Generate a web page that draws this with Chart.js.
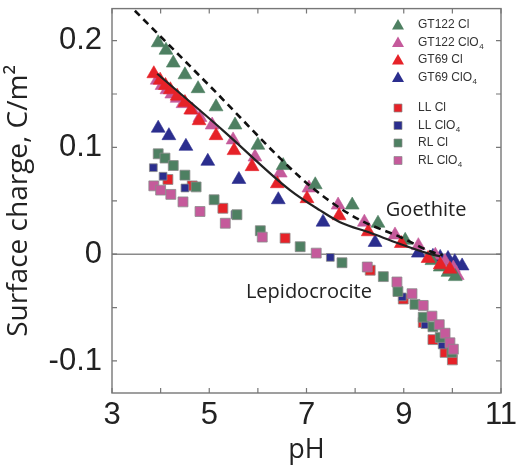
<!DOCTYPE html>
<html>
<head>
<meta charset="utf-8">
<script src="https://cdn.jsdelivr.net/npm/chart.js@4.4.0/dist/chart.umd.min.js"></script>
<style>
  body { margin: 0; background: #fff; }
</style>
</head>
<body>
<canvas id="pzc" width="516" height="469"></canvas>
<script>
// surface charge (C/m2) vs pH for goethite (triangles) and lepidocrocite (squares)
var phTicks = [3, 5, 7, 9, 11];
var chargeTicks = [-0.1, 0, 0.1, 0.2];

// goethite titrations
var gt122ClPH = [3.95, 4.11, 4.26, 4.50, 4.77, 5.14, 5.53, 6.00, 6.52, 7.18, 7.94, 8.47, 9.03, 9.58, 9.75, 9.91, 10.06];
var gt122ClQ  = [0.198, 0.191, 0.179, 0.168, 0.155, 0.138, 0.121, 0.102, 0.083, 0.065, 0.046, 0.029, 0.013, -0.006, -0.012, -0.017, -0.021];

var gt122ClO4PH = [3.93, 4.03, 4.13, 4.23, 4.34, 4.46, 4.65, 4.81, 5.06, 5.49, 5.94, 6.46, 7.05, 7.65, 8.19, 8.82, 9.30, 9.65, 9.85, 10.02, 10.10];
var gt122ClO4Q  = [0.163, 0.158, 0.154, 0.150, 0.146, 0.141, 0.135, 0.128, 0.121, 0.107, 0.091, 0.076, 0.062, 0.046, 0.030, 0.018, 0.008, -0.001, -0.007, -0.013, -0.020];

var gt69ClPH = [3.86, 3.99, 4.10, 4.20, 4.34, 4.50, 4.62, 4.79, 5.14, 5.51, 5.88, 6.40, 7.01, 7.67, 8.27, 8.95, 9.50, 9.75, 9.95];
var gt69ClQ  = [0.169, 0.163, 0.158, 0.154, 0.148, 0.142, 0.135, 0.125, 0.111, 0.097, 0.082, 0.066, 0.052, 0.036, 0.021, 0.010, -0.004, -0.010, -0.014];

var gt69ClO4PH = [3.95, 4.17, 4.52, 4.97, 5.61, 6.42, 7.34, 8.41, 9.30, 9.60, 9.75, 9.91, 10.05, 10.20];
var gt69ClO4Q  = [0.118, 0.111, 0.101, 0.087, 0.070, 0.051, 0.030, 0.011, 0.001, -0.002, -0.003, -0.004, -0.007, -0.011];

// lepidocrocite titrations
var llClPH = [4.15, 4.65, 5.28, 6.56, 8.31, 8.99, 9.40, 9.60, 9.85, 10.00];
var llClQ  = [0.070, 0.064, 0.043, 0.015, -0.015, -0.042, -0.064, -0.080, -0.092, -0.099];

var llClO4PH = [3.85, 4.05, 4.50, 5.53, 7.49, 8.97, 9.44, 9.79];
var llClO4Q  = [0.081, 0.073, 0.062, 0.037, -0.003, -0.040, -0.066, -0.085];

var rlClPH = [3.95, 4.09, 4.26, 4.50, 4.73, 5.10, 5.57, 6.05, 6.87, 7.73, 8.58, 8.88, 9.23, 9.40, 9.60, 9.75, 9.99];
var rlClQ  = [0.094, 0.090, 0.083, 0.074, 0.063, 0.051, 0.037, 0.022, 0.007, -0.008, -0.021, -0.035, -0.047, -0.059, -0.068, -0.078, -0.092];

var rlClO4PH = [3.86, 4.00, 4.21, 4.46, 4.81, 5.33, 6.09, 7.20, 8.25, 8.86, 9.17, 9.40, 9.58, 9.73, 9.85, 9.95, 10.02];
var rlClO4Q  = [0.064, 0.060, 0.056, 0.049, 0.040, 0.029, 0.016, 0.001, -0.012, -0.026, -0.037, -0.048, -0.058, -0.066, -0.074, -0.083, -0.089];

// model curves
var dashedPH = [3.47, 5.00, 6.87, 7.50, 8.10, 8.93, 9.58, 9.80];
var dashedQ  = [0.228, 0.158, 0.072, 0.049, 0.032, 0.016, 0.002, -0.001];
var solidPH = [3.93, 5.28, 6.66, 7.28, 7.69, 8.31, 8.90, 9.48, 9.75];
var solidQ  = [0.169, 0.116, 0.060, 0.041, 0.030, 0.020, 0.010, 0.001, -0.002];

var zeroPH = [3, 11];
var zeroQ = [0, 0];

function pts(xs, ys) {
  return xs.map(function (x, i) { return { x: x, y: ys[i] }; });
}

var GREEN = '#4e8062', PINK = '#c55a9b', RED = '#e62228', BLUE = '#2b2e8e';

function marks(label, xs, ys, style, color, order) {
  var tri = style === 'triangle';
  return {
    label: label,
    data: pts(xs, ys),
    pointStyle: style,
    pointRadius: tri ? 8 : (color === BLUE ? 5.5 : 7),
    backgroundColor: color,
    borderColor: tri ? color : '#8a8a8a',
    borderWidth: tri ? 0.6 : 0.8,
    showLine: false,
    order: order
  };
}

var datasets = [
  { label: 'model dashed', data: pts(dashedPH, dashedQ), showLine: true, pointRadius: 0, borderColor: '#111',
    borderWidth: 2.6, borderDash: [7, 5], cubicInterpolationMode: 'monotone', order: 0 },
  { label: 'model solid', data: pts(solidPH, solidQ), showLine: true, pointRadius: 0, borderColor: '#222',
    borderWidth: 2.2, cubicInterpolationMode: 'monotone', order: 0 },
  marks('GT69 Cl', gt69ClPH, gt69ClQ, 'triangle', RED, 1),
  marks('GT122 Cl', gt122ClPH, gt122ClQ, 'triangle', GREEN, 2),
  marks('GT122 ClO\u2084', gt122ClO4PH, gt122ClO4Q, 'triangle', PINK, 3),
  marks('GT69 ClO\u2084', gt69ClO4PH, gt69ClO4Q, 'triangle', BLUE, 4),
  marks('RL ClO\u2084', rlClO4PH, rlClO4Q, 'rect', PINK, 5),
  marks('RL Cl', rlClPH, rlClQ, 'rect', GREEN, 6),
  marks('LL ClO\u2084', llClO4PH, llClO4Q, 'rect', BLUE, 7),
  marks('LL Cl', llClPH, llClQ, 'rect', RED, 8),
  { label: 'zero', data: pts(zeroPH, zeroQ), showLine: true, pointRadius: 0, borderColor: '#8a8a8a',
    borderWidth: 1.5, order: 9 }
];

// legend entries, in the order drawn top to bottom (null = gap)
var legendRows = ['GT122 Cl', 'GT122 ClO\u2084', 'GT69 Cl', 'GT69 ClO\u2084', null,
                  'LL Cl', 'LL ClO\u2084', 'RL Cl', 'RL ClO\u2084'];

var boxPlugin = {
  id: 'box',
  afterDatasetsDraw: function (chart) {
    var ctx = chart.ctx, a = chart.chartArea;
    var xs = chart.scales.x, ys = chart.scales.y;
    ctx.save();
    ctx.strokeStyle = '#777';
    ctx.lineWidth = 1.4;
    ctx.strokeRect(a.left, a.top, a.right - a.left, a.bottom - a.top);
    ctx.lineWidth = 1.2;
    ctx.beginPath();
    for (var p = 3; p <= 11; p++) {
      var px = xs.getPixelForValue(p);
      ctx.moveTo(px, a.bottom); ctx.lineTo(px, a.bottom - 5);
      ctx.moveTo(px, a.top); ctx.lineTo(px, a.top + 5);
    }
    for (var k = -2; k <= 4; k++) {
      var py = ys.getPixelForValue(k * 0.05);
      ctx.moveTo(a.left, py); ctx.lineTo(a.left + 5, py);
      ctx.moveTo(a.right, py); ctx.lineTo(a.right - 5, py);
    }
    ctx.stroke();

    // annotations
    ctx.fillStyle = '#222';
    ctx.font = '20px "Open Sans"';
    ctx.textAlign = 'center';
    ctx.textBaseline = 'middle';
    ctx.fillText('Goethite', xs.getPixelForValue(9.46), ys.getPixelForValue(0.041));
    ctx.fillText('Lepidocrocite', xs.getPixelForValue(7.05), ys.getPixelForValue(-0.036));

    // legend
    var y = 25;
    ctx.textAlign = 'left';
    legendRows.forEach(function (name) {
      if (name === null) { y += 13; return; }
      var ds = chart.data.datasets.filter(function (d) { return d.label === name; })[0];
      var mx = 398;
      ctx.fillStyle = ds.backgroundColor;
      ctx.beginPath();
      if (ds.pointStyle === 'triangle') {
        ctx.moveTo(mx, y - 6); ctx.lineTo(mx + 6, y + 4.5); ctx.lineTo(mx - 6, y + 4.5);
        ctx.closePath(); ctx.fill();
      } else {
        ctx.rect(mx - 4, y - 4, 8, 8); ctx.fill();
        ctx.strokeStyle = '#8a8a8a'; ctx.lineWidth = 0.7; ctx.stroke();
      }
      var parts = name.split('\u2084');
      ctx.fillStyle = '#333';
      ctx.font = '12px "Liberation Sans"';
      ctx.fillText(parts[0], 418, y);
      if (parts.length > 1) {
        var w = ctx.measureText(parts[0]).width;
        ctx.font = '8px "Liberation Sans"';
        ctx.fillText('4', 418 + w + 0.5, y + 4);
      }
      y += 17.5;
    });
    ctx.restore();
  }
};

var chart = new Chart(document.getElementById('pzc'), {
  type: 'scatter',
  data: { datasets: datasets },
  options: {
    responsive: false,
    animation: false,
    events: [],
    layout: { padding: { top: 8, right: 15, left: 0, bottom: 0 } },
    plugins: { legend: { display: false }, tooltip: { enabled: false } },
    scales: {
      x: {
        type: 'linear', min: 3, max: 11,
        grid: { display: false, drawTicks: false },
        border: { display: false },
        ticks: {
          stepSize: 1, padding: 4, color: '#222', autoSkip: false, maxRotation: 0, includeBounds: false,
          font: { family: 'Liberation Sans', size: 31 },
          callback: function (v) { return phTicks.indexOf(v) >= 0 ? String(v) : ''; }
        },
        title: { display: true, text: 'pH', color: '#222', padding: { top: 0, bottom: 2 },
                 font: { family: 'Open Sans', size: 27 } },
        afterFit: function (s) { s.height = 76; s.paddingLeft = 0; s.paddingRight = 0; }
      },
      y: {
        type: 'linear', min: -0.13, max: 0.23,
        grid: { display: false, drawTicks: false },
        border: { display: false },
        ticks: {
          stepSize: 0.05, padding: 10, color: '#222', autoSkip: false, includeBounds: false,
          font: { family: 'Liberation Sans', size: 31 },
          callback: function (v) {
            var r = Math.round(v * 100);
            for (var i = 0; i < chargeTicks.length; i++) {
              if (Math.round(chargeTicks[i] * 100) === r) return r === 0 ? '0' : chargeTicks[i].toFixed(1);
            }
            return '';
          }
        },
        title: { display: true, text: 'Surface charge, C/m\u00b2', color: '#222', padding: { top: 2, bottom: 0 },
                 font: { family: 'Open Sans', size: 28 } },
        afterFit: function (s) { s.width = 112; s.paddingTop = 0; s.paddingBottom = 0; }
      }
    }
  },
  plugins: [boxPlugin]
});
</script>
</body>
</html>
